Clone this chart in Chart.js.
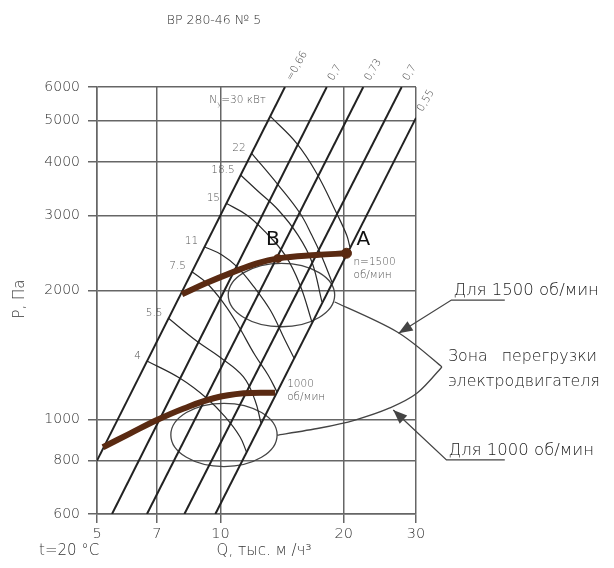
<!DOCTYPE html>
<html>
<head>
<meta charset="utf-8">
<script src="https://cdn.jsdelivr.net/npm/chart.js@4/dist/chart.umd.min.js"></script>
<style>
  html, body { margin: 0; padding: 0; background: #fff; }
  #wrap { width: 614px; height: 568px; }
</style>
</head>
<body>
<div id="wrap"><canvas id="c" width="614" height="568"></canvas></div>
<script>
const FONT = '"DejaVu Sans", Lato, sans-serif';
const W = 200; // light text weight

// axis ticks: Q, thousand m3/h and P, Pa
const qTicks = [5, 7, 10, 20, 30];
const pTicks = [600, 800, 1000, 2000, 3000, 4000, 5000, 6000];

// system (efficiency) lines: start / end points [Q, P]
const etaNames = ['=0,66', '0,7', '0,73', '0,7', '0,55'];
const etaStart = [[5, 800], [5.44, 600], [6.62, 600], [8.17, 600], [9.72, 600]];
const etaEnd = [[14.37, 6000], [18.17, 6000], [22.31, 6000], [27.68, 6000], [30, 5080]];

// constant motor power curves, kW
const powerNames = ['30', '22', '18.5', '15', '11', '7.5', '5.5', '4'];
const power30 = [[13.26, 5112], [15.35, 4428], [17.17, 3769], [19.21, 3037], [20.32, 2700], [20.7, 2532]];
const power22 = [[11.92, 4196], [13.84, 3537], [15.64, 3037], [16.7, 2700], [17.69, 2399], [18.71, 2096]];
const power18 = [[11.2, 3734], [12.26, 3443], [13.84, 3091], [15.46, 2700], [16.72, 2336], [17.69, 1882]];
const power15 = [[10.32, 3205], [11.59, 3009], [12.85, 2750], [14.37, 2426], [15.64, 2063], [16.72, 1690]];
const power11 = [[9.13, 2536], [10.09, 2426], [10.97, 2277], [12.06, 2044], [13.23, 1802], [14.37, 1533], [15.12, 1391]];
const power7 = [[8.52, 2216], [9.27, 2082], [10.19, 1869], [10.97, 1678], [12.14, 1414], [13.07, 1270], [13.74, 1159]];
const power5 = [[7.47, 1724], [8.75, 1525], [9.98, 1397], [11.37, 1258], [12.14, 1109], [12.56, 980]];
const power4 = [[6.62, 1369], [7.97, 1247], [9.26, 1120], [10.26, 1014], [11.17, 909], [11.58, 838]];
const powerCurves = [power30, power22, power18, power15, power11, power7, power5, power4];

// fan curves
const curve1500 = [[8.06, 1963], [9.27, 2087], [10.77, 2214], [12.28, 2319], [13.81, 2380], [17.15, 2424], [20.3, 2448]];
const curve1000 = [[5.17, 860], [6.03, 927], [7.0, 996], [8.14, 1060], [9.63, 1120], [11.4, 1150], [13.6, 1154]];
const pointNames = ['A', 'B'];
const pointValues = [[20.3, 2448], [13.81, 2380]];

// motor overload zones: [Qmin, Qmax, Pmin, Pmax]
const zone1500 = [10.45, 19.0, 1647, 2319];
const zone1000 = [7.57, 13.75, 775, 1090];
const braceUpper = [[19.0, 1882], [27.0, 1601], [34.7, 1326]];
const braceLower = [[34.7, 1326], [30.2, 1152], [25.9, 1063], [21.3, 996], [17.5, 954], [13.75, 918]];

// callouts
const noteTexts = ['Для 1500 об/мин', 'Для 1000 об/мин'];
const noteStart = [[36.6, 1902], [35.6, 803]];
const noteEnd = [[49.4, 1902], [49.4, 803]];
const noteTip = [[27.2, 1590], [26.4, 1051]];
const zoneText = ['Зона', 'перегрузки', 'электродвигателя'];

const toXY = arr => arr.map(([x, y]) => ({ x, y }));

const datasets = [];
datasets.push({ data: toXY(curve1500), borderColor: '#5a2a12', borderWidth: 6, tension: 0.4, pointRadius: 0, showLine: true, order: 0, borderCapStyle: 'butt' });
datasets.push({ data: toXY(curve1000), borderColor: '#5a2a12', borderWidth: 6, tension: 0.4, pointRadius: 0, showLine: true, order: 0, borderCapStyle: 'butt' });
datasets.push({ data: toXY(pointValues), borderColor: '#5a2a12', backgroundColor: '#5a2a12', pointRadius: [5, 4], showLine: false, order: 0 });
etaStart.forEach((s, i) => {
  datasets.push({ data: toXY([s, etaEnd[i]]), borderColor: '#222', borderWidth: 2, pointRadius: 0, showLine: true, order: 1 });
});
powerCurves.forEach(c => {
  datasets.push({ data: toXY(c), borderColor: '#2a2a2a', borderWidth: 1.2, tension: 0.4, pointRadius: 0, showLine: true, order: 2 });
});

function smoothPath(ctx, pts) {
  ctx.moveTo(pts[0][0], pts[0][1]);
  for (let i = 0; i < pts.length - 1; i++) {
    const p0 = pts[Math.max(i - 1, 0)], p1 = pts[i], p2 = pts[i + 1], p3 = pts[Math.min(i + 2, pts.length - 1)];
    const c1 = [p1[0] + (p2[0] - p0[0]) / 6, p1[1] + (p2[1] - p0[1]) / 6];
    const c2 = [p2[0] - (p3[0] - p1[0]) / 6, p2[1] - (p3[1] - p1[1]) / 6];
    ctx.bezierCurveTo(c1[0], c1[1], c2[0], c2[1], p2[0], p2[1]);
  }
}

const overlay = {
  id: 'overlay',
  beforeDatasetsDraw(chart) {
    const { ctx, scales: { x, y } } = chart;
    const P = ([q, p]) => [x.getPixelForValue(q), y.getPixelForValue(p)];
    ctx.save();
    ctx.strokeStyle = '#444';
    ctx.lineWidth = 1.3;
    [zone1500, zone1000].forEach(z => {
      const x1 = x.getPixelForValue(z[0]), x2 = x.getPixelForValue(z[1]);
      const y1 = y.getPixelForValue(z[3]), y2 = y.getPixelForValue(z[2]);
      ctx.beginPath();
      ctx.ellipse((x1 + x2) / 2, (y1 + y2) / 2, (x2 - x1) / 2, (y2 - y1) / 2, 0, 0, Math.PI * 2);
      ctx.stroke();
    });
    ctx.beginPath();
    smoothPath(ctx, braceUpper.map(P));
    ctx.stroke();
    ctx.beginPath();
    smoothPath(ctx, braceLower.map(P));
    ctx.stroke();
    ctx.restore();
  },
  afterDatasetsDraw(chart) {
    const { ctx, scales: { x, y } } = chart;
    const P = ([q, p]) => [x.getPixelForValue(q), y.getPixelForValue(p)];
    ctx.save();

    // title and axis names
    ctx.fillStyle = '#333';
    ctx.textBaseline = 'middle';
    ctx.textAlign = 'center';
    ctx.font = `${W} 12.5px ${FONT}`;
    ctx.fillText('ВР 280-46 № 5', 214, 21);
    ctx.font = `${W} 15px ${FONT}`;
    ctx.fillText('Q, тыс. м /ч³', 264, 551);
    ctx.textAlign = 'left';
    ctx.fillText('t=20 °C', 39, 551);
    ctx.save();
    ctx.translate(20, 299);
    ctx.rotate(-Math.PI / 2);
    ctx.textAlign = 'center';
    ctx.fillText('Р, Па', 0, 0);
    ctx.restore();

    // efficiency labels
    ctx.fillStyle = '#444';
    ctx.font = `${W} 10.5px ${FONT}`;
    etaEnd.forEach((e, i) => {
      const [ex, ey] = P(e);
      ctx.save();
      ctx.translate(ex + 4, ey - 7);
      ctx.rotate(-60 * Math.PI / 180);
      ctx.textAlign = 'left';
      ctx.textBaseline = 'middle';
      ctx.fillText(etaNames[i], 0, 0);
      ctx.restore();
    });

    // power labels
    ctx.fillStyle = '#555';
    ctx.font = `${W} 10.5px ${FONT}`;
    ctx.textAlign = 'right';
    ctx.textBaseline = 'middle';
    powerCurves.forEach((c, i) => {
      const [sx, sy] = P(c[0]);
      if (i === 0) {
        const tx = sx - 5, ty = sy - 16;
        const rest = '=30 кВт';
        const wRest = ctx.measureText(rest).width;
        ctx.fillText(rest, tx, ty);
        ctx.font = `${W} 7px ${FONT}`;
        const wSub = ctx.measureText('у').width;
        ctx.fillText('у', tx - wRest, ty + 3);
        ctx.font = `${W} 10.5px ${FONT}`;
        ctx.fillText('N', tx - wRest - wSub, ty);
      } else {
        ctx.fillText(powerNames[i], sx - 6, sy - 5);
      }
    });

    // speed labels
    ctx.textAlign = 'left';
    ctx.font = `${W} 10.5px ${FONT}`;
    const [ax, ay] = P(curve1500[curve1500.length - 1]);
    ctx.fillText('n=1500', ax + 7, ay + 9);
    ctx.fillText('об/мин', ax + 7, ay + 22);
    const [bx, by] = P(curve1000[curve1000.length - 1]);
    ctx.fillText('1000', bx + 12, by - 8);
    ctx.fillText('об/мин', bx + 12, by + 5);

    // A / B
    ctx.fillStyle = '#111';
    ctx.font = `20px ${FONT}`;
    ctx.textAlign = 'center';
    const [pAx, pAy] = P(pointValues[0]);
    ctx.fillText(pointNames[0], pAx + 17, pAy - 13);
    const [pBx, pBy] = P(pointValues[1]);
    ctx.fillText(pointNames[1], pBx - 5, pBy - 19);

    // callouts with arrows
    ctx.strokeStyle = '#444';
    ctx.fillStyle = '#444';
    ctx.lineWidth = 1.3;
    noteTexts.forEach((t, i) => {
      const [sx, sy] = P(noteStart[i]);
      const [ex] = P(noteEnd[i]);
      const [tx, ty] = P(noteTip[i]);
      ctx.beginPath();
      ctx.moveTo(ex, sy);
      ctx.lineTo(sx, sy);
      ctx.lineTo(tx, ty);
      ctx.stroke();
      const ang = Math.atan2(ty - sy, tx - sx);
      const L = 14, H = 5.5;
      ctx.beginPath();
      ctx.moveTo(tx, ty);
      ctx.lineTo(tx - L * Math.cos(ang) + H * Math.sin(ang), ty - L * Math.sin(ang) - H * Math.cos(ang));
      ctx.lineTo(tx - L * Math.cos(ang) - H * Math.sin(ang), ty - L * Math.sin(ang) + H * Math.cos(ang));
      ctx.closePath();
      ctx.fill();
      ctx.save();
      ctx.fillStyle = '#222';
      ctx.font = `${W} 16.5px ${FONT}`;
      ctx.textAlign = 'left';
      ctx.textBaseline = 'alphabetic';
      ctx.fillText(t, sx + 2, sy - 5);
      ctx.restore();
    });

    // overload zone caption
    const [vx, vy] = P(braceUpper[braceUpper.length - 1]);
    ctx.fillStyle = '#222';
    ctx.font = `${W} 15.8px ${FONT}`;
    ctx.textBaseline = 'alphabetic';
    ctx.textAlign = 'left';
    ctx.fillText(zoneText[0], vx + 6, vy - 6);
    ctx.textAlign = 'right';
    ctx.fillText(zoneText[1], vx + 155, vy - 6);
    ctx.textAlign = 'left';
    ctx.fillText(zoneText[2], vx + 6, vy + 19);

    ctx.restore();
  }
};

new Chart(document.getElementById('c'), {
  type: 'scatter',
  data: { datasets },
  plugins: [overlay],
  options: {
    responsive: false,
    animation: false,
    events: [],
    layout: { padding: { left: 0, top: 87, right: 198, bottom: 0 } },
    plugins: { legend: { display: false }, tooltip: { enabled: false } },
    scales: {
      x: {
        type: 'logarithmic',
        min: 5, max: 30,
        afterBuildTicks: s => { s.ticks = qTicks.map(v => ({ value: v })); },
        afterFit: s => { s.height = 54; },
        ticks: { autoSkip: false, maxRotation: 0, color: '#333', padding: 3, font: { family: FONT, size: 14.5, weight: W }, callback: v => String(v) },
        grid: { color: '#666', lineWidth: 1.5, tickLength: 9 },
        border: { display: true, color: '#666', width: 1.5 }
      },
      y: {
        type: 'logarithmic',
        min: 600, max: 6000,
        afterBuildTicks: s => { s.ticks = pTicks.map(v => ({ value: v })); },
        afterFit: s => { s.width = 97; },
        ticks: { autoSkip: false, color: '#333', padding: 8, font: { family: FONT, size: 14, weight: W }, callback: v => String(v) },
        grid: { color: '#666', lineWidth: 1.5, tickLength: 9 },
        border: { display: true, color: '#666', width: 1.5 }
      }
    }
  }
});
</script>
</body>
</html>
